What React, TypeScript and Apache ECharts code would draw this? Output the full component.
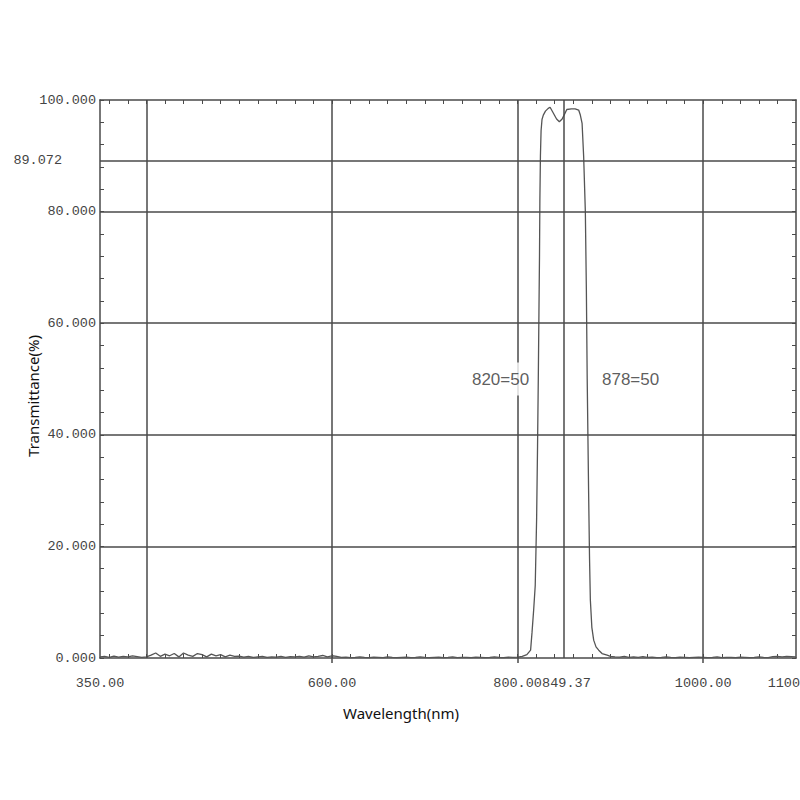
import React, { useEffect, useRef } from "react";
import * as echarts from "echarts";

// Measured transmittance curve (wavelength in nm, transmittance in %)
const wavelengths = [
  350, 355, 360, 365, 370, 375, 380, 385, 390, 395,
  400, 405, 410, 415, 420, 425, 430, 435, 440, 445,
  450, 455, 460, 465, 470, 475, 480, 485, 490, 495,
  500, 505, 510, 515, 520, 525, 530, 535, 540, 545,
  550, 555, 560, 565, 570, 575, 580, 585, 590, 595,
  600, 605, 610, 615, 620, 625, 630, 635, 640, 645,
  650, 655, 660, 665, 670, 675, 680, 685, 690, 695,
  700, 705, 710, 715, 720, 725, 730, 735, 740, 745,
  750, 755, 760, 765, 770, 775, 780, 785, 790, 795,
  800,
  805, 810, 814, 815.5, 817.3, 819, 820.5, 821.5, 822.3, 823,
  823.6, 824, 824.6, 825.3, 826.3, 827.7, 830, 833, 835, 838,
  842, 845, 848, 851, 853, 858, 862, 865.8, 867.6, 869.5,
  871.2, 873, 874.1, 875, 876.5, 877.5, 878.4, 880, 882, 884.5,
  887.4, 891, 896.5, 900,
  905, 910, 915, 920, 925, 930, 935, 940, 945, 950,
  955, 960, 965, 970, 975, 980, 985, 990, 995, 1000,
  1005, 1010, 1015, 1020, 1025, 1030, 1035, 1040, 1045, 1050,
  1055, 1060, 1065, 1070, 1075, 1080, 1085, 1090, 1095, 1100,
];

const transmittance = [
  0.2, 0.3, 0.1, 0.35, 0.15, 0.3, 0.2, 0.4, 0.25, 0.1,
  0.2, 0.5, 0.9, 0.3, 0.7, 0.4, 0.8, 0.2, 0.9, 0.5,
  0.3, 0.8, 0.6, 0.2, 0.7, 0.4, 0.6, 0.2, 0.5, 0.3,
  0.35, 0.15, 0.3, 0.1, 0.2, 0.3, 0.1, 0.2, 0.15, 0.3,
  0.1, 0.25, 0.2, 0.3, 0.15, 0.4, 0.2, 0.3, 0.45, 0.2,
  0.4, 0.3, 0.1, 0.15, 0.05, 0.1, 0.2, 0.1, 0.05, 0.15,
  0.1, 0.05, 0.2, 0.1, 0.05, 0.1, 0.15, 0.05, 0.1, 0.2,
  0.1, 0.05, 0.1, 0.15, 0.05, 0.1, 0.2, 0.05, 0.1, 0.1,
  0.05, 0.15, 0.1, 0.05, 0.1, 0.2, 0.1, 0.05, 0.15, 0.1,
  0.15,
  0.3, 0.6, 1.4, 4.5, 8.6, 13, 25, 38, 50, 62,
  72, 82, 90, 94.5, 96.5, 97.3, 98, 98.5, 98.7, 97.8,
  96.6, 96.1, 96.6, 97.6, 98.3, 98.4, 98.4, 98.2, 97.3, 95.8,
  89.8, 80, 66, 50, 30, 18, 10.4, 5.5, 3.2, 2.0,
  1.4, 0.8, 0.5, 0.3,
  0.2, 0.15, 0.3, 0.1, 0.2, 0.1, 0.25, 0.1, 0.15, 0.05,
  0.1, 0.2, 0.1, 0.05, 0.15, 0.1, 0.05, 0.1, 0.15, 0.1,
  0.05, 0.1, 0.2, 0.05, 0.1, 0.1, 0.05, 0.15, 0.1, 0.05,
  0.1, 0.2, 0.1, 0.05, 0.25, 0.3, 0.2, 0.3, 0.25, 0.2,
];

// Axis tick / label values
const xLabelValues = [350, 600, 800, 1000, 1100];
const xMajorTickValues = [600, 800, 1000];
const xMinorTickValues = [
  360, 380, 400, 420, 440, 460, 480, 500, 520, 540, 560, 580, 600, 620, 640,
  660, 680, 700, 720, 740, 760, 780, 800, 820, 840, 860, 880, 900, 920, 940,
  960, 980, 1000, 1020, 1040, 1060, 1080,
];
const xGridValues = [400, 600, 800, 849.37, 1000];
const yGridValues = [20, 40, 60, 80, 89.072];
const peakWavelength = 849.37;
const refLevel = 89.072;

// Edge annotations
const edgeWavelengths = [820, 878];
const edgeLevels = [50, 50];
const edgeTexts = ["820=50", "878=50"];
const edgeSides = ["left", "right"];

const xTitle = "Wavelength(nm)";
const yTitle = "Transmittance(%)";

const GRID_COLOR = "#4a4a4a";
const TICK_FONT = "Liberation Mono";

export default function App() {
  const ref = useRef<HTMLDivElement>(null);

  useEffect(() => {
    document.body.style.margin = "0";
    if (!ref.current) return;
    const chart = echarts.init(ref.current, null, { renderer: "svg" });

    const lineData = wavelengths.map((w, i) => [w, transmittance[i]]);
    const tickLabelStyle = {
      fontFamily: TICK_FONT,
      fontSize: 13.5,
      color: "#444",
    };
    const axisLineStyle = { color: GRID_COLOR, width: 1.5 };
    const titleStyle = { fontFamily: "Noto Sans", fontSize: 15, fill: "#111" };

    const markLineData: any[] = [
      ...xGridValues.map((v) =>
        v === peakWavelength
          ? {
              xAxis: v,
              label: {
                show: true,
                position: "start",
                formatter: v.toFixed(2),
                distance: 18,
                ...tickLabelStyle,
                padding: [0, 0, 0, 6],
              },
            }
          : { xAxis: v }
      ),
      ...yGridValues.map((v) =>
        v === refLevel
          ? {
              yAxis: v,
              label: {
                show: true,
                position: "start",
                formatter: v.toFixed(3),
                distance: 38,
                ...tickLabelStyle,
              },
            }
          : { yAxis: v }
      ),
    ];

    const option: any = {
      animation: false,
      backgroundColor: "#fff",
      grid: {
        left: 100,
        right: 4,
        top: 100,
        bottom: 142,
        containLabel: false,
        outerBoundsMode: "none",
      },
      graphic: [
        {
          type: "text",
          x: 401,
          y: 713,
          style: { text: xTitle, ...titleStyle, textAlign: "center", textVerticalAlign: "middle" },
        },
        {
          type: "text",
          x: 33,
          y: 396,
          rotation: Math.PI / 2,
          style: { text: yTitle, ...titleStyle, textAlign: "center", textVerticalAlign: "middle" },
        },
      ],
      xAxis: [
        {
          type: "value",
          min: 350,
          max: 1100,
          position: "bottom",
          axisLine: { show: true, onZero: false, lineStyle: axisLineStyle },
          axisTick: {
            show: true,
            inside: false,
            length: 5,
            customValues: xMajorTickValues,
            lineStyle: { color: GRID_COLOR, width: 1.5 },
          },
          axisLabel: {
            customValues: xLabelValues,
            formatter: (v: number) => v.toFixed(2),
            margin: 18,
            ...tickLabelStyle,
          },
          splitLine: { show: false },
        },
        {
          type: "value",
          min: 350,
          max: 1100,
          position: "bottom",
          axisLine: { show: false, onZero: false },
          axisTick: {
            show: true,
            inside: true,
            length: 4,
            customValues: xMinorTickValues,
            lineStyle: { color: GRID_COLOR, width: 1 },
          },
          axisLabel: { show: false },
          splitLine: { show: false },
        },
        {
          type: "value",
          min: 350,
          max: 1100,
          position: "top",
          axisLine: { show: true, onZero: false, lineStyle: axisLineStyle },
          axisTick: {
            show: true,
            inside: true,
            length: 4,
            customValues: xMinorTickValues,
            lineStyle: { color: GRID_COLOR, width: 1 },
          },
          axisLabel: { show: false },
          splitLine: { show: false },
        },
      ],
      yAxis: [
        {
          type: "value",
          min: 0,
          max: 100,
          interval: 20,
          position: "left",
          axisLine: { show: true, onZero: false, lineStyle: axisLineStyle },
          axisTick: { show: true, inside: true, length: 4, lineStyle: { color: GRID_COLOR, width: 1 } },
          minorTick: { show: true, splitNumber: 5, length: 4, lineStyle: { color: GRID_COLOR, width: 1 } },
          axisLabel: {
            formatter: (v: number) => v.toFixed(3),
            margin: 4,
            ...tickLabelStyle,
          },
          splitLine: { show: false },
        },
        {
          type: "value",
          min: 0,
          max: 100,
          interval: 20,
          position: "right",
          axisLine: { show: true, onZero: false, lineStyle: axisLineStyle },
          axisTick: { show: true, inside: true, length: 4, lineStyle: { color: GRID_COLOR, width: 1 } },
          minorTick: { show: true, splitNumber: 5, length: 4, lineStyle: { color: GRID_COLOR, width: 1 } },
          axisLabel: { show: false },
          splitLine: { show: false },
        },
      ],
      series: [
        {
          type: "line",
          xAxisIndex: 0,
          yAxisIndex: 0,
          data: lineData,
          showSymbol: false,
          smooth: false,
          lineStyle: { color: "#555", width: 1.3 },
          z: 3,
          markLine: {
            silent: true,
            symbol: ["none", "none"],
            animation: false,
            lineStyle: { color: GRID_COLOR, width: 1.5, type: "solid" },
            label: { show: false },
            emphasis: { disabled: true },
            data: markLineData,
          },
        },
        {
          type: "scatter",
          xAxisIndex: 0,
          yAxisIndex: 0,
          symbolSize: 0,
          silent: true,
          z: 10,
          data: edgeWavelengths.map((w, i) => ({
            value: [w, edgeLevels[i]],
            label: {
              show: true,
              formatter: edgeTexts[i],
              position: edgeSides[i],
              distance: edgeSides[i] === "left" ? 7 : 12,
              fontFamily: "Liberation Sans",
              fontSize: 17,
              color: "#333",
              backgroundColor: edgeSides[i] === "left" ? "#fff" : "transparent",
              padding: [8, 0],
            },
          })),
        },
      ],
    };

    chart.setOption(option);
    return () => chart.dispose();
  }, []);

  return <div ref={ref} style={{ width: 800, height: 800 }} />;
}
